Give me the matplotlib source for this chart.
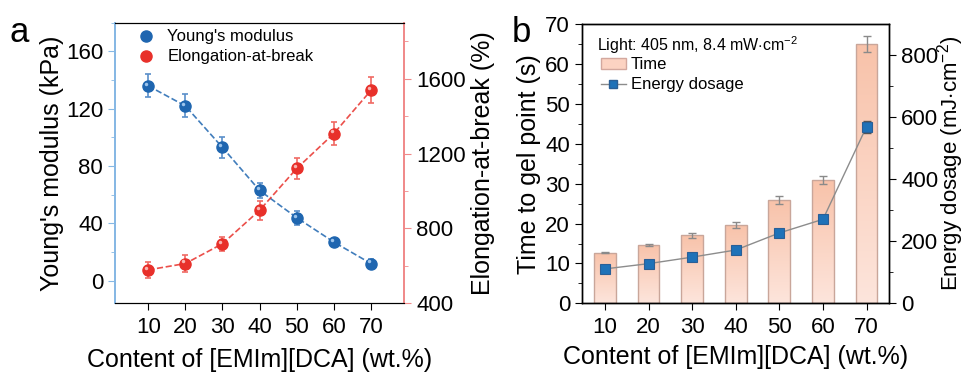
import numpy as np
import matplotlib
matplotlib.use("Agg")
import matplotlib.pyplot as plt
import matplotlib.transforms as mtransforms
from matplotlib.lines import Line2D
from matplotlib.patches import Patch

plt.rcParams["font.family"] = ["Liberation Sans", "DejaVu Sans"]
plt.rcParams["mathtext.fontset"] = "custom"
plt.rcParams["mathtext.rm"] = "Liberation Sans"
plt.rcParams["mathtext.it"] = "Liberation Sans:italic"
plt.rcParams["mathtext.bf"] = "Liberation Sans:bold"

# ---- panel a data ----
content = [10, 20, 30, 40, 50, 60, 70]
modulus = [136, 122, 93, 63, 44, 27, 12]          # kPa
modulus_err = [8, 8, 7, 5.5, 5, 2, 3]
elongation = [577, 611, 717, 896, 1120, 1307, 1538]  # %
elongation_err = [42, 47, 38, 52, 55, 60, 70]

# ---- panel b data ----
gel_time = [12.7, 14.6, 17.1, 19.6, 25.9, 31.0, 65.0]   # s
gel_time_err = [0.2, 0.3, 0.6, 0.7, 0.9, 1.0, 2.0]
energy = [111, 128, 149, 172, 227, 271, 570]            # mJ cm^-2
energy_err = [8, 8, 8, 8, 10, 12, 19]

BLUE = "#1f66b0"
RED = "#e8302a"
BLUE_SPINE = "#86b8e4"
RED_SPINE = "#f08a8a"
FS = 16     # tick labels
LFS = 18    # axis labels

fig = plt.figure(figsize=(9.65, 3.74), dpi=100)

# ================= panel a =================
ax1 = fig.add_axes([0.119, 0.190, 0.300, 0.749])
ax2 = ax1.twinx()

hl1 = mtransforms.offset_copy(ax1.transData, fig=fig, x=-1.5, y=1.5,
                              units="points")
hl2 = mtransforms.offset_copy(ax2.transData, fig=fig, x=-1.5, y=1.5,
                              units="points")

ax1.plot(content, modulus, "--", color=BLUE, lw=1.2, alpha=0.85, zorder=2)
ax1.errorbar(content, modulus, yerr=modulus_err, fmt="none", ecolor="#5a8fca",
             elinewidth=1.2, capsize=2.5, capthick=1.2, zorder=3)
ax1.plot(content, modulus, "o", color=BLUE, ms=8, mec=BLUE, zorder=4)
ax1.plot(content, modulus, "o", color="#9cc4ec", ms=2.5, mec="none",
         zorder=5, transform=hl1)

ax2.plot(content, elongation, "--", color=RED, lw=1.2, alpha=0.85, zorder=2)
ax2.errorbar(content, elongation, yerr=elongation_err, fmt="none",
             ecolor="#f06a64", elinewidth=1.2, capsize=2.5, capthick=1.2,
             zorder=3)
ax2.plot(content, elongation, "o", color=RED, ms=8, mec=RED, zorder=4)
ax2.plot(content, elongation, "o", color="#f9b4b0", ms=2.5, mec="none",
         zorder=5, transform=hl2)

ax1.set_xlim(1, 79)
ax1.set_ylim(-15.5, 180)
ax2.set_ylim(400, 1900)
ax1.set_xticks(content)
ax1.set_yticks([0, 40, 80, 120, 160])
ax1.set_yticks([20, 60, 100, 140, 180], minor=True)
ax2.set_yticks([400, 800, 1200, 1600])
ax2.set_yticks([600, 1000, 1400, 1800], minor=True)

ax1.spines["left"].set_color(BLUE_SPINE)
ax2.spines["left"].set_color(BLUE_SPINE)
ax2.spines["right"].set_color(RED_SPINE)
ax1.spines["right"].set_color(RED_SPINE)
for s in ["left", "right"]:
    ax1.spines[s].set_linewidth(1.3)
    ax2.spines[s].set_linewidth(1.3)

ax1.tick_params(axis="y", which="both", colors=BLUE_SPINE, labelcolor="black",
                direction="out", labelsize=FS)
ax1.tick_params(axis="y", which="major", length=5)
ax1.tick_params(axis="y", which="minor", length=3)
ax1.tick_params(axis="x", direction="out", length=5, labelsize=FS, pad=5)
ax2.tick_params(axis="y", which="both", colors=RED_SPINE, labelcolor="black",
                direction="out", labelsize=FS)
ax2.tick_params(axis="y", which="major", length=5)
ax2.tick_params(axis="y", which="minor", length=3)

ax1.set_ylabel("Young's modulus (kPa)", fontsize=LFS, labelpad=1)
ax2.set_ylabel("Elongation-at-break (%)", fontsize=LFS, labelpad=4)
ax1.set_xlabel("Content of [EMIm][DCA] (wt.%)", fontsize=LFS, labelpad=7)

handles_a = [
    Line2D([], [], ls="none", marker="o", color=BLUE, ms=8),
    Line2D([], [], ls="none", marker="o", color=RED, ms=8),
]
ax1.legend(handles_a, ["Young's modulus", "Elongation-at-break"],
           loc="upper left", bbox_to_anchor=(0.055, 1.0), borderaxespad=0,
           frameon=False, fontsize=12, handlelength=1.0, handletextpad=0.8,
           labelspacing=0.3)

fig.text(0.010, 0.888, "a", fontsize=25, va="baseline")

# ================= panel b =================
bx1 = fig.add_axes([0.603, 0.189, 0.3185, 0.746])
bx2 = bx1.twinx()

bars = bx1.bar(content, gel_time, width=5, color="none",
               edgecolor="#c9a69a", lw=1.0, zorder=2)
grad = np.linspace(0, 1, 256).reshape(-1, 1)
cmap = matplotlib.colors.LinearSegmentedColormap.from_list(
    "peach", ["#fde5dc", "#f8c2a9"])
for b in bars:
    x0, y0 = b.get_x(), b.get_y()
    w, h = b.get_width(), b.get_height()
    im = bx1.imshow(grad, extent=[x0, x0 + w, y0, y0 + h], origin="lower",
                    cmap=cmap, aspect="auto", zorder=1)
    im.set_clip_path(b)
bx1.errorbar(content, gel_time, yerr=gel_time_err, fmt="none",
             ecolor="#8a8a8a", elinewidth=1.0, capsize=3, capthick=1.0,
             zorder=3)

bx2.plot(content, energy, "-", color="#8c8c8c", lw=1.0, zorder=2)
bx2.errorbar(content, energy, yerr=energy_err, fmt="none", ecolor="#555555",
             elinewidth=1.0, capsize=3, capthick=1.0, zorder=3)
bx2.plot(content, energy, "s", color="#1f72b8", ms=7, mec="#2a5f96",
         mew=0.8, zorder=4)

bx1.set_xlim(4.7, 75.2)
bx1.set_ylim(0, 70)
bx2.set_ylim(0, 900)
bx1.set_xticks(content)
bx1.set_yticks(range(0, 71, 10))
bx1.set_yticks(range(5, 70, 10), minor=True)
bx2.set_yticks([0, 200, 400, 600, 800])
bx2.set_yticks([100, 300, 500, 700], minor=True)

for a in (bx1, bx2):
    a.tick_params(axis="y", which="major", length=5, direction="out",
                  labelsize=FS)
    a.tick_params(axis="y", which="minor", length=3, direction="out")
    for s in a.spines.values():
        s.set_linewidth(1.0)
bx1.tick_params(axis="x", direction="out", length=5, labelsize=FS, pad=5)

bx1.set_ylabel("Time to gel point (s)", fontsize=LFS, labelpad=3)
bx2.set_ylabel("Energy dosage (mJ$\\cdot$cm$^{-2}$)", fontsize=16)
bx2.yaxis.set_label_coords(1.148, 0.5)
bx1.set_xlabel("Content of [EMIm][DCA] (wt.%)", fontsize=LFS, labelpad=5)

handles_b = [
    Patch(facecolor="#fcd3c2", edgecolor="#d3a89e"),
    Line2D([], [], color="#8c8c8c", lw=1.0, marker="s", ms=5.5,
           mfc="#1f72b8", mec="#2a5f96"),
]
bx1.legend(handles_b, ["Time", "Energy dosage"], loc="upper left",
           bbox_to_anchor=(0.04, 0.905), borderaxespad=0, frameon=False,
           fontsize=12, handlelength=1.5, handletextpad=0.3,
           labelspacing=0.3)
bx1.text(0.05, 0.965, "Light: 405 nm, 8.4 mW$\\cdot$cm$^{-2}$",
         transform=bx1.transAxes, fontsize=11.5, va="top")

fig.text(0.530, 0.888, "b", fontsize=25, va="baseline")

fig.savefig("out.png", dpi=100)
